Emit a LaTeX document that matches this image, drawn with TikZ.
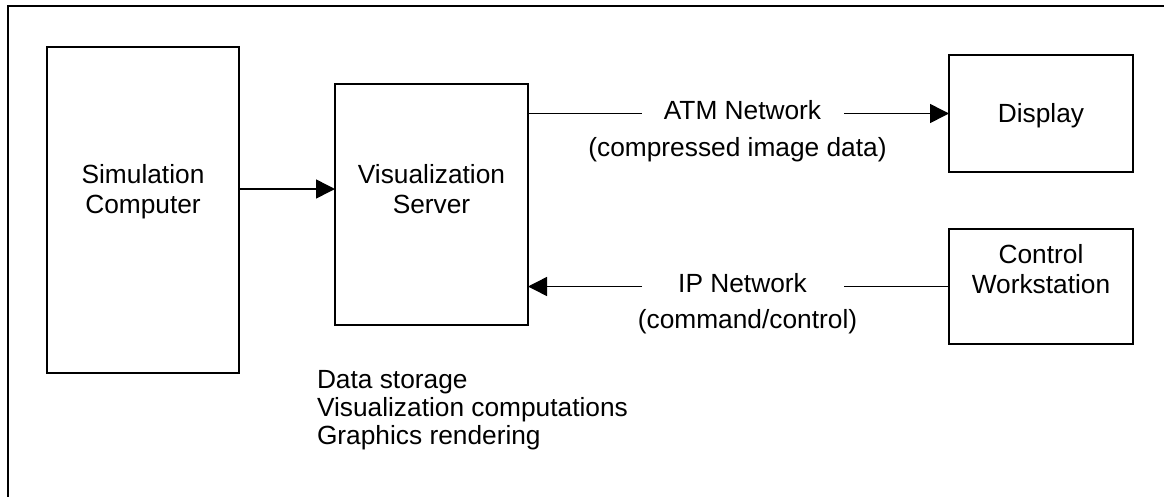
\documentclass[tikz,border=0pt]{standalone}
\usepackage{fontspec}
\setmainfont{Liberation Sans}
\usetikzlibrary{arrows.meta}

\begin{document}
\begin{tikzpicture}[x=1pt,y=-1pt,
  box/.style={draw,line width=1.6pt,inner sep=0pt,outer sep=0pt},
  txt/.style={inner sep=0pt,outer sep=0pt,align=center,anchor=base,
    font=\fontsize{26.3}{30.5}\selectfont},
  lst/.style={inner sep=0pt,outer sep=0pt,align=left,anchor=base west,
    font=\fontsize{26.3}{28}\selectfont},
  link/.style={line width=1.5pt},
  tip/.style={-{Triangle[length=19pt,width=19pt]}},
  frame/.style={line width=2.2pt}]
\useasboundingbox (0,0) rectangle (1164,496);
\begin{scope}
  \clip (0,0) rectangle (1164,496);
  % outer frame (only its top and left edges fall inside the page)
  \draw[frame] (8,520) -- (8,6) -- (1190,6);
\end{scope}

% boxes
\node[box,minimum width=192pt,minimum height=326pt] (sim) at (143,210) {};
\node[box,minimum width=193pt,minimum height=241pt] (vis) at (431.5,204.5) {};
\node[box,minimum width=184pt,minimum height=117pt] (disp) at (1041,113.5) {};
\node[box,minimum width=184pt,minimum height=115pt] (ctl) at (1041,286.5) {};

% box texts (anchored on the baseline of their last line)
\node[txt] (simT) at (143,213.5) {Simulation\\Computer};
\node[txt] (visT) at (431.5,213.5) {Visualization\\Server};
\node[txt] (dispT) at (1041,122) {Display};
\node[txt] (ctlT) at (1041,293.5) {Control\\Workstation};

% link labels
\node[txt] (atmT) at (742.5,119) {ATM Network};
\node[txt] (atmS) at (737.5,156) {(compressed image data)};
\node[txt] (ipT) at (742.5,292) {IP Network};
\node[txt] (ipS) at (747.5,328) {(command/control)};

% server duties
\node[lst] (duties) at (317,444) {Data storage\\Visualization computations\\Graphics rendering};

% connector end points beside the labels
\coordinate (s1) at (239,189);
\coordinate (a1) at (642,113.5);
\coordinate (a2) at (844,113.5);
\coordinate (i1) at (642,286.5);
\coordinate (i2) at (844,286.5);

% connectors
\draw[link,tip] (sim.east |- s1) -- (vis.west |- s1);
\draw[link] (vis.east |- a1) -- (a1);
\draw[link,tip] (a2) -- (disp.west);
\draw[link] (ctl.west) -- (i2);
\draw[link,tip] (i1) -- (vis.east |- i1);
\end{tikzpicture}
\end{document}
